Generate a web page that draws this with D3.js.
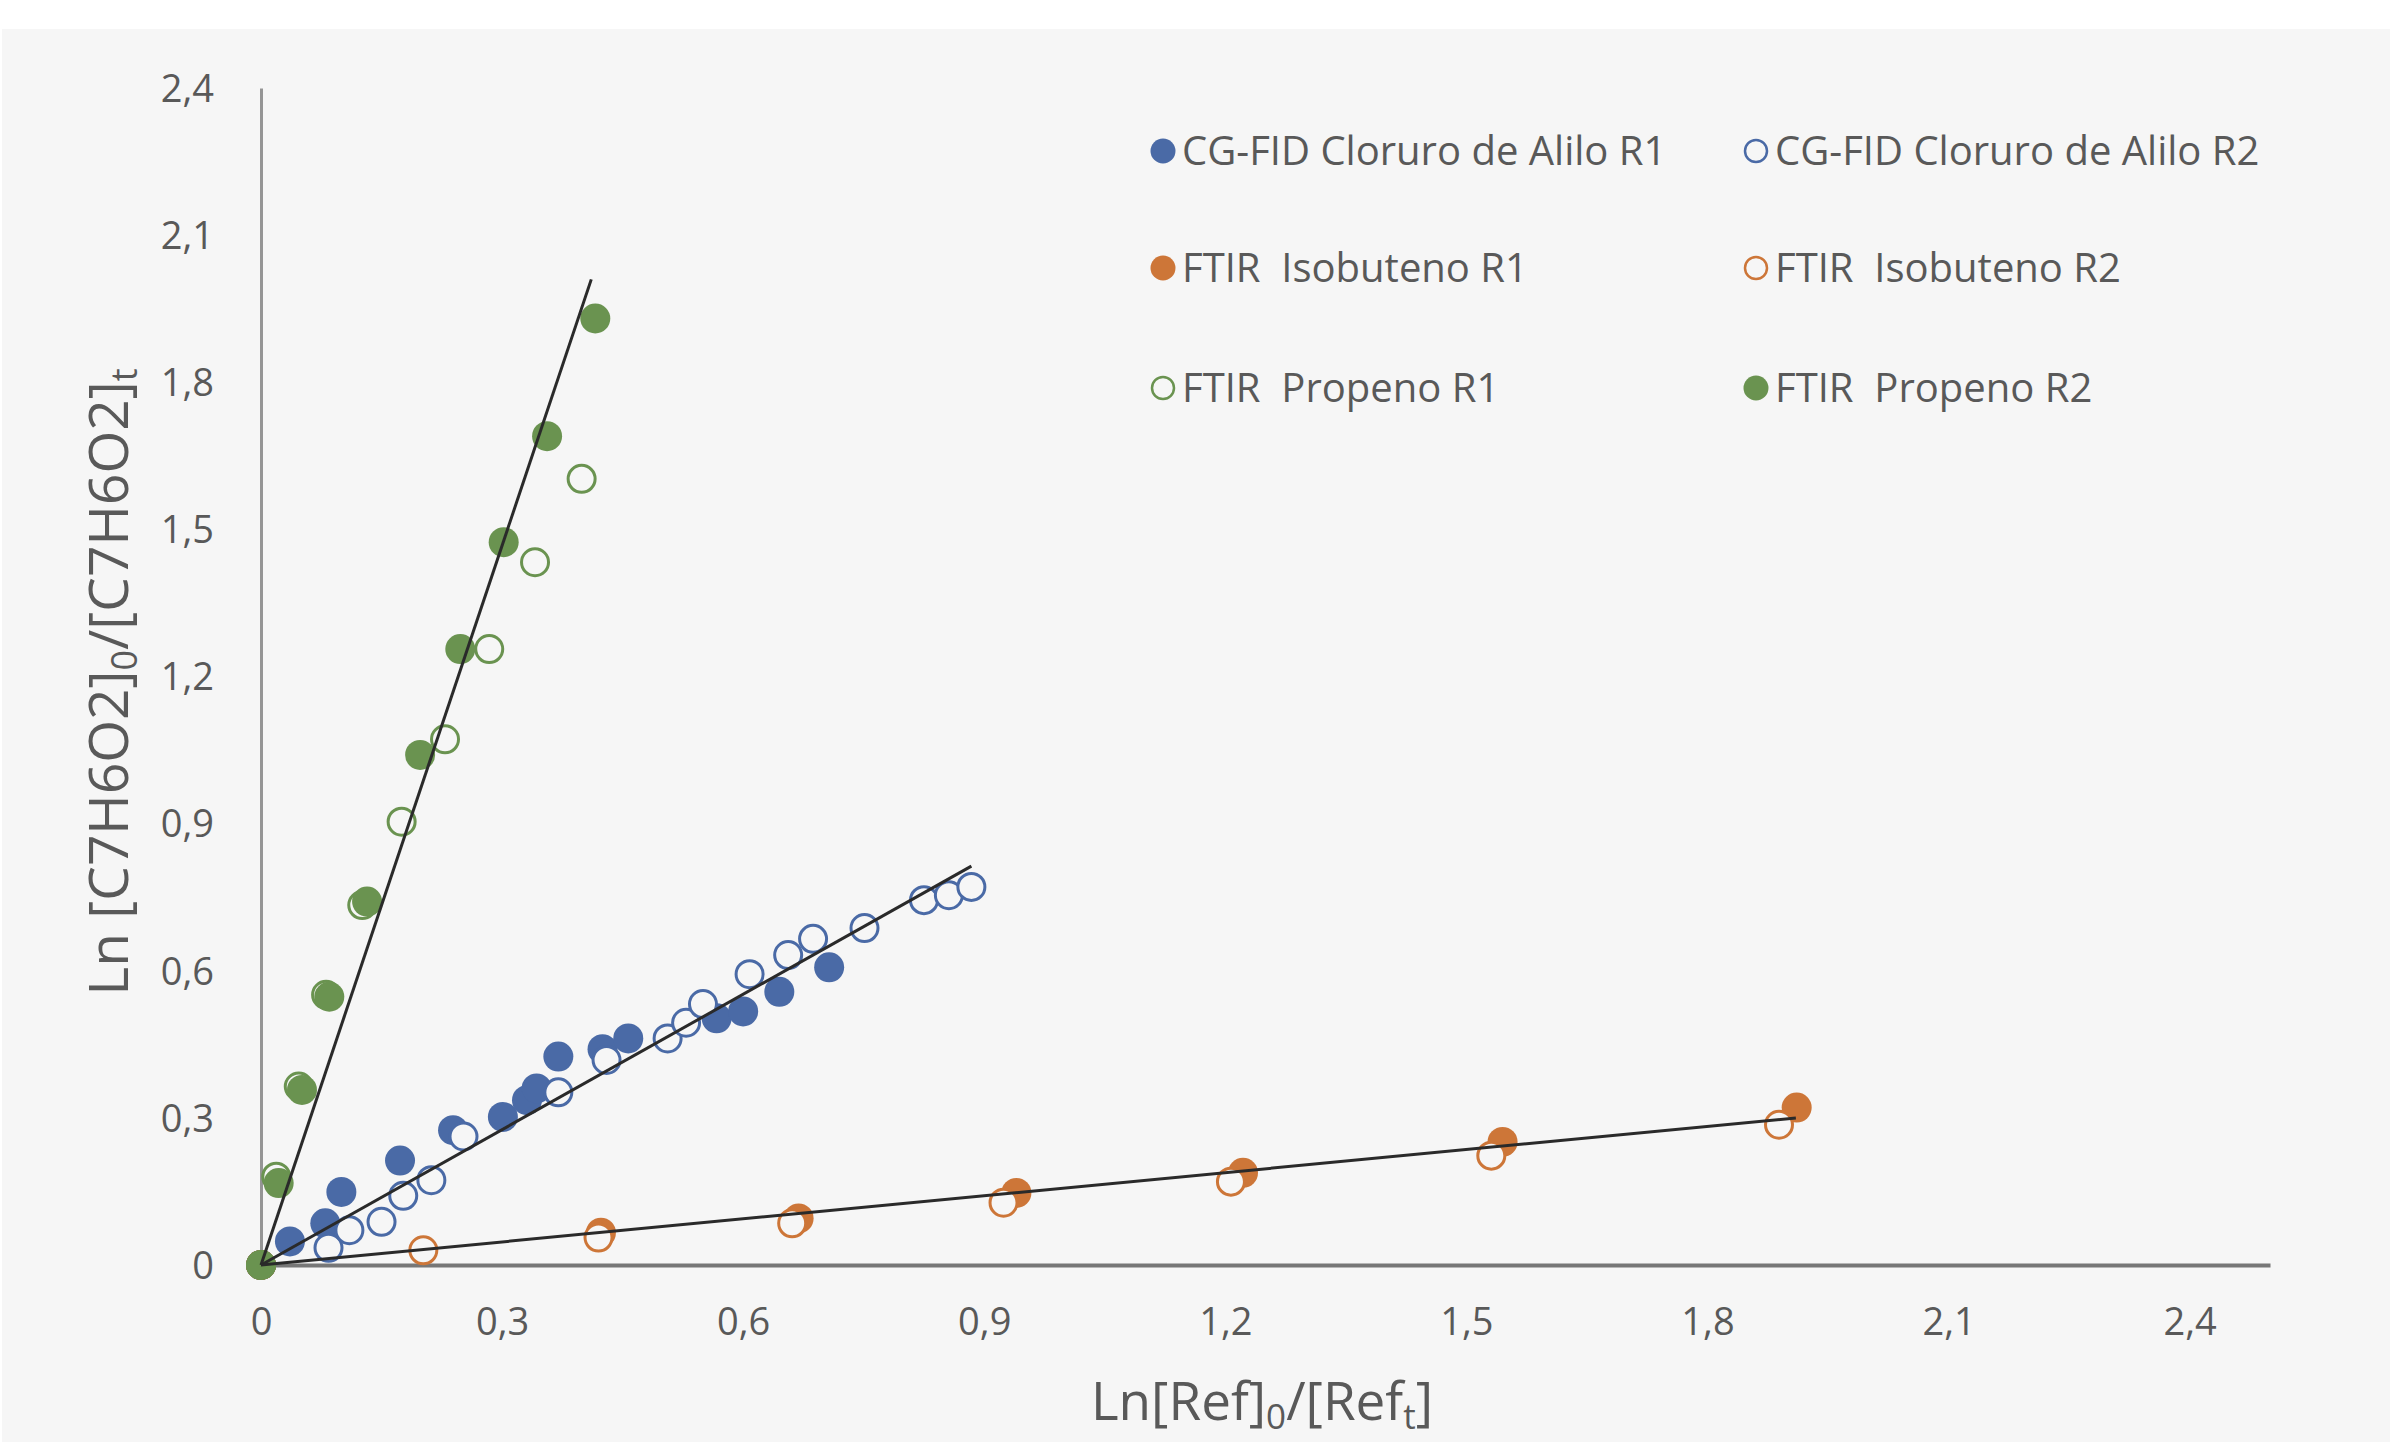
<!DOCTYPE html>
<html>
<head>
<meta charset="utf-8">
<script src="https://cdn.jsdelivr.net/npm/d3@7"></script>
<style>
  html, body { margin: 0; padding: 0; background: #ffffff; }
  svg { display: block; }
  text { font-family: "Open Sans", "Noto Sans", sans-serif; fill: #595959; }
</style>
</head>
<body>
<svg id="chart"></svg>
<script>
// values
const xTicks = [0, 0.3, 0.6, 0.9, 1.2, 1.5, 1.8, 2.1, 2.4];
const xTickLabels = ["0", "0,3", "0,6", "0,9", "1,2", "1,5", "1,8", "2,1", "2,4"];
const yTicks = [0, 0.3, 0.6, 0.9, 1.2, 1.5, 1.8, 2.1, 2.4];
const yTickLabels = ["0", "0,3", "0,6", "0,9", "1,2", "1,5", "1,8", "2,1", "2,4"];

const cloruroR1 = [[0, 0], [0.036, 0.048], [0.080, 0.085], [0.100, 0.149], [0.173, 0.213], [0.239, 0.275],
  [0.301, 0.302], [0.331, 0.336], [0.343, 0.360], [0.370, 0.425], [0.425, 0.440], [0.457, 0.462],
  [0.567, 0.503], [0.600, 0.517], [0.645, 0.557], [0.707, 0.607]];
const cloruroR2 = [[0, 0], [0.084, 0.035], [0.110, 0.071], [0.150, 0.088], [0.177, 0.141], [0.212, 0.173],
  [0.252, 0.262], [0.370, 0.352], [0.430, 0.418], [0.506, 0.462], [0.529, 0.494], [0.550, 0.532],
  [0.608, 0.593], [0.656, 0.632], [0.687, 0.665], [0.751, 0.687], [0.825, 0.744], [0.856, 0.754], [0.884, 0.771]];
const isobutenoR1 = [[0, 0], [0.423, 0.066], [0.669, 0.095], [0.940, 0.147], [1.222, 0.188], [1.545, 0.251], [1.911, 0.321]];
const isobutenoR2 = [[0, 0], [0.202, 0.030], [0.420, 0.056], [0.661, 0.085], [0.924, 0.127], [1.207, 0.170], [1.531, 0.223], [1.889, 0.286]];
const propenoR1 = [[0, 0], [0.019, 0.180], [0.047, 0.364], [0.081, 0.551], [0.126, 0.734], [0.175, 0.904],
  [0.229, 1.072], [0.284, 1.256], [0.341, 1.433], [0.399, 1.603]];
const propenoR2 = [[0, 0], [0.022, 0.167], [0.051, 0.357], [0.085, 0.547], [0.132, 0.741], [0.198, 1.040],
  [0.248, 1.256], [0.302, 1.474], [0.356, 1.690], [0.416, 1.930]];

// linear fits through the origin: [slope, last x]
const trendCloruro = [0.92, 0.884];
const trendIsobuteno = [0.157, 1.91];
const trendPropeno = [4.89, 0.411];

const blue = "#4a6aa6", orange = "#cd7638", green = "#6a9350";
const bg = "#f6f6f6";

const series = [
  { name: "CG-FID Cloruro de Alilo R1", data: cloruroR1, color: blue, hollow: false },
  { name: "CG-FID Cloruro de Alilo R2", data: cloruroR2, color: blue, hollow: true },
  { name: "FTIR  Isobuteno R1", data: isobutenoR1, color: orange, hollow: false },
  { name: "FTIR  Isobuteno R2", data: isobutenoR2, color: orange, hollow: true },
  { name: "FTIR  Propeno R1", data: propenoR1, color: green, hollow: true },
  { name: "FTIR  Propeno R2", data: propenoR2, color: green, hollow: false }
];

const W = 2390, H = 1442;
const margin = { left: 261, top: 88, right: 120, bottom: 177 };

const svg = d3.select("#chart").attr("width", W).attr("height", H);

svg.append("rect").attr("x", 2).attr("y", 29).attr("width", W - 2).attr("height", H - 29).attr("fill", bg);

const x = d3.scaleLinear().domain([0, 2.5]).range([margin.left, W - margin.right]);
const y = d3.scaleLinear().domain([0, 2.4]).range([H - margin.bottom, margin.top]);

// axes
const xAxis = d3.axisBottom(x).tickValues(xTicks).tickSize(0).tickFormat((d, i) => xTickLabels[i]);
const yAxis = d3.axisLeft(y).tickValues(yTicks).tickSize(0).tickFormat((d, i) => yTickLabels[i]);

const gy = svg.append("g").attr("transform", `translate(${x(0)},0)`).call(yAxis);
gy.select(".domain").attr("stroke", "#959595").attr("stroke-width", 3);
gy.selectAll("text").attr("x", -47).attr("dy", "0.35em")
  .style("font-size", "38px").style("fill", "#595959").style("font-family", null);

const gx = svg.append("g").attr("transform", `translate(0,${y(0)})`).call(xAxis);
gx.select(".domain").attr("stroke", "#777777").attr("stroke-width", 4);
gx.selectAll("text").attr("y", 57).attr("dy", "0.35em")
  .style("font-size", "38px").style("fill", "#595959").style("font-family", null);
svg.selectAll(".tick line").remove();

// points
const plot = svg.append("g");
series.forEach(s => {
  plot.append("g").selectAll("circle").data(s.data).join("circle")
    .attr("cx", d => x(d[0]))
    .attr("cy", d => y(d[1]))
    .attr("r", s.hollow ? 13.5 : 15)
    .attr("fill", s.hollow ? bg : s.color)
    .attr("stroke", s.hollow ? s.color : "none")
    .attr("stroke-width", s.hollow ? 3 : 0);
});

// trend lines
const line = d3.line().x(d => x(d[0])).y(d => y(d[1]));
[trendCloruro, trendIsobuteno, trendPropeno].forEach(t => {
  svg.append("path")
    .datum([[0, 0], [t[1], t[0] * t[1]]])
    .attr("d", line)
    .attr("fill", "none")
    .attr("stroke", "#2a2a2a")
    .attr("stroke-width", 3);
});

// legend
const legendCols = [1163, 1756];
const legendRows = [151, 268, 388];
const legend = svg.append("g");
series.forEach((s, i) => {
  const lx = legendCols[i % 2], ly = legendRows[Math.floor(i / 2)];
  legend.append("circle")
    .attr("cx", lx).attr("cy", ly)
    .attr("r", s.hollow ? 11 : 12.5)
    .attr("fill", s.hollow ? bg : s.color)
    .attr("stroke", s.hollow ? s.color : "none")
    .attr("stroke-width", s.hollow ? 2.5 : 0);
  legend.append("text")
    .attr("x", lx + 19).attr("y", ly)
    .attr("dy", "0.35em")
    .style("font-size", "40px")
    .style("white-space", "pre")
    .text(s.name);
});

// axis titles
const xt = svg.append("text")
  .attr("x", 1262).attr("y", 1420)
  .attr("text-anchor", "middle")
  .style("font-size", "53px");
xt.append("tspan").text("Ln[Ref]");
xt.append("tspan").attr("baseline-shift", "-25%").style("font-size", "35px").text("0");
xt.append("tspan").text("/[Ref");
xt.append("tspan").attr("baseline-shift", "-25%").style("font-size", "35px").text("t");
xt.append("tspan").text("]");

const yt = svg.append("text")
  .attr("transform", "translate(128,682) rotate(-90)")
  .attr("text-anchor", "middle")
  .style("font-size", "55px");
yt.append("tspan").text("Ln [C7H6O2]");
yt.append("tspan").attr("baseline-shift", "-25%").style("font-size", "36px").text("0");
yt.append("tspan").text("/[C7H6O2]");
yt.append("tspan").attr("baseline-shift", "-25%").style("font-size", "36px").text("t");
</script>
</body>
</html>
